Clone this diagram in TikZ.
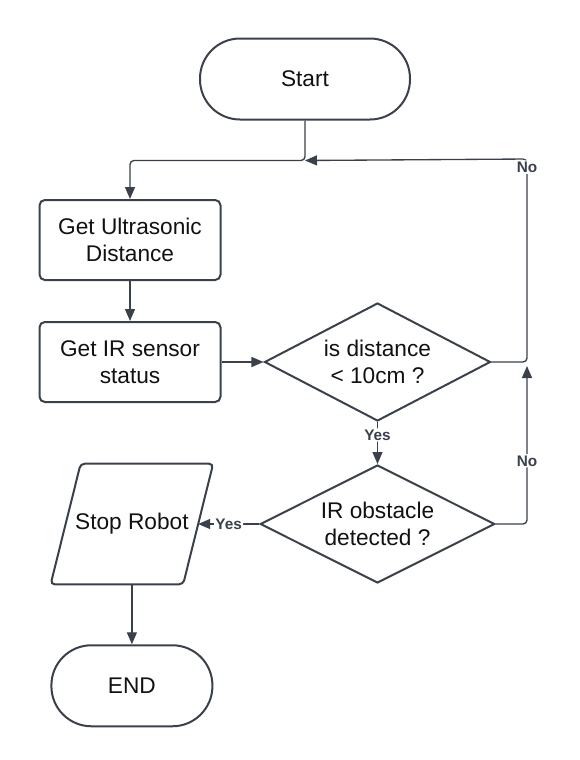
\documentclass[tikz,border=0pt]{standalone}
\usepackage{fontspec}
\setmainfont{Liberation Sans}
\usepackage{xcolor}
\usepackage{tikz}
\usetikzlibrary{arrows.meta,positioning,shapes.geometric,calc}
\definecolor{flowInk}{HTML}{3A414B}
\definecolor{flowText}{HTML}{111111}
\tikzset{
  terminal/.style={
    rectangle,
    rounded corners=30pt,
    draw=flowInk,
    line width=1.5pt,
    minimum height=60.75pt,
    align=center,
    text=flowText,
    font=\fontsize{17}{20.25}\selectfont
  },
  process/.style={
    rectangle,
    rounded corners=4pt,
    draw=flowInk,
    line width=1.5pt,
    minimum width=135.75pt,
    minimum height=60pt,
    inner sep=0pt,
    align=center,
    text=flowText,
    font=\fontsize{17}{20.25}\selectfont
  },
  decision/.style={
    diamond,
    aspect=1.9,
    draw=flowInk,
    line width=1.5pt,
    inner sep=0pt,
    minimum height=88.5pt,
    align=center,
    text=flowText,
    font=\fontsize{17}{20.25}\selectfont
  },
  ioBox/.style={
    rectangle,
    minimum width=99pt,
    minimum height=90pt,
    inner sep=0pt,
    align=center,
    text=flowText,
    font=\fontsize{17}{20.25}\selectfont
  },
  ioOutline/.style={
    draw=flowInk,
    line width=1.5pt,
    rounded corners=3pt
  },
  arrow/.style={
    -{Triangle[length=9pt,width=7.5pt]},
    line width=1pt,
    draw=flowInk,
    rounded corners=3pt
  },
  branchLabel/.style={
    fill=white,
    inner sep=1pt,
    text=flowInk,
    font=\fontsize{11.5}{13}\selectfont\bfseries
  }
}

\begin{document}
\begin{tikzpicture}[x=0.75pt,y=-0.75pt,node distance=30pt]
  \useasboundingbox (0,0) rectangle (580,760);
  \node[terminal,minimum width=157.5pt] (start) at (305,79) {Start};
  \node[process] (ultra) at (130,240) {Get Ultrasonic\\Distance};
  \node[process,below=of ultra] (irs) {Get IR sensor\\status};
  \node[decision,minimum width=169.5pt,right=31.5pt of irs] (dist) {is distance\\< 10cm ?};
  \node[decision,minimum width=176pt,below=31.5pt of dist] (obst) {IR obstacle\\detected ?};
  \node[ioBox,left=45.75pt of obst] (stop) {Stop Robot};
  \node[terminal,minimum width=120.75pt,below=45pt of stop] (endn) {END};
  % slanted frame of the output box
  \draw[ioOutline] ($(stop.north west)+(11.25pt,0)$) -- ($(stop.north east)+(11.25pt,0)$)
    -- ($(stop.south east)+(-11.25pt,0)$) -- ($(stop.south west)+(-11.25pt,0)$) -- cycle;
  \coordinate (join) at ($(start.south)+(0,40)$);
  \coordinate (noTop) at (527,159);
  \coordinate (noMid) at (527,366);
  \draw[arrow] (start.south) -- (join) -| (ultra.north);
  \draw[arrow] (ultra) -- (irs);
  \draw[arrow] (irs) -- (dist);
  \draw[arrow] (dist.east) -| node[branchLabel,pos=0.98]{No} (noTop) -- (join);
  \draw[arrow] (dist) -- node[branchLabel,pos=0.31]{Yes} (obst);
  \draw[arrow] (obst.east) -| node[branchLabel,pos=0.7]{No} (noMid);
  \draw[arrow] (obst) -- node[branchLabel]{Yes} (stop);
  \draw[arrow] (stop) -- (endn);
\end{tikzpicture}
\end{document}
